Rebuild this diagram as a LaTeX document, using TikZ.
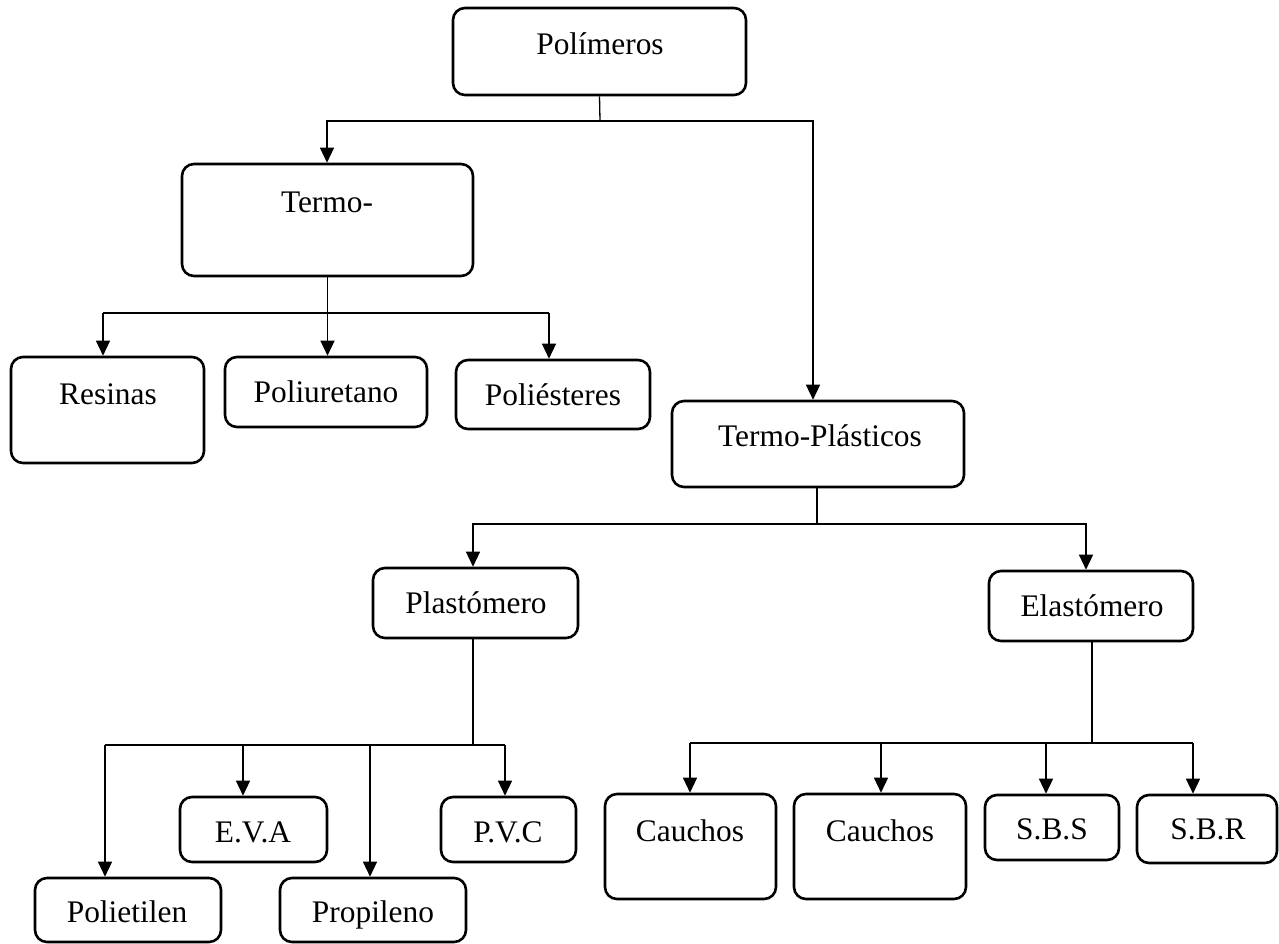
\documentclass[tikz,border=0pt]{standalone}
\usepackage{fontspec}
\setmainfont{Liberation Serif}
\usetikzlibrary{arrows.meta}
\begin{document}
\begin{tikzpicture}[x=1pt,y=-1pt,
  box/.style={draw, line width=2.6pt, rounded corners=12pt, inner sep=0pt},
  sz/.style 2 args={minimum width=#1pt, minimum height=#2pt},
  lbl/.style={inner sep=0pt, anchor=base, font=\fontsize{31.4}{36}\selectfont},
  conn/.style={line width=1.3pt},
  arr/.style={conn, -{Triangle[length=15pt,width=14pt]}}]
\useasboundingbox (0,0) rectangle (1279,943);

% ---- boxes ----
\node[box, sz={293}{87}]  (poli)   at (599.5,51.5) {};
\node[box, sz={291}{112}] (termo)  at (327.5,220)  {};
\node[box, sz={193}{106}] (resin)  at (107.5,410)  {};
\node[box, sz={202}{70}]  (poliu)  at (326,392)    {};
\node[box, sz={194}{69}]  (polie)  at (553,394.5)  {};
\node[box, sz={292}{86}]  (tp)     at (818,444)    {};
\node[box, sz={205}{70}]  (plast)  at (475.5,603)  {};
\node[box, sz={204}{70}]  (elast)  at (1091,606)   {};
\node[box, sz={147}{65}]  (eva)    at (253.5,829.5){};
\node[box, sz={135}{65}]  (pvc)    at (508.5,829.5){};
\node[box, sz={186}{64}]  (polet)  at (128,910)    {};
\node[box, sz={186}{64}]  (propi)  at (373,910)    {};
\node[box, sz={171}{105}] (cauA)   at (690.5,846.5){};
\node[box, sz={172}{105}] (cauB)   at (880,846.5)  {};
\node[box, sz={134}{65}]  (sbs)    at (1052,827.5) {};
\node[box, sz={140}{68}]  (sbr)    at (1207,829)   {};

% ---- labels ----
\node[lbl] (poli-t)  at (600,54)   {Polímeros};
\node[lbl] (termo-t) at (327,212)  {Termo-};
\node[lbl] (resin-t) at (108,404)  {Resinas};
\node[lbl] (poliu-t) at (326,402)  {Poliuretano};
\node[lbl] (polie-t) at (553,405)  {Poliésteres};
\node[lbl] (tp-t)    at (820,446)  {Termo-Plásticos};
\node[lbl] (plast-t) at (476,613)  {Plastómero};
\node[lbl] (elast-t) at (1092,616) {Elastómero};
\node[lbl] (eva-t)   at (253,842)  {E.V.A};
\node[lbl] (pvc-t)   at (508,842)  {P.V.C};
\node[lbl] (polet-t) at (127,922)  {Polietilen};
\node[lbl] (propi-t) at (373,922)  {Propileno};
\node[lbl] (cauA-t)  at (690,841)  {Cauchos};
\node[lbl] (cauB-t)  at (880,841)  {Cauchos};
\node[lbl] (sbs-t)   at (1052,839) {S.B.S};
\node[lbl] (sbr-t)   at (1208,839) {S.B.R};

% ---- Polímeros branch ----
\coordinate (b1)  at (600,121);
\coordinate (b1l) at (327,121);
\coordinate (b1r) at (813,121);
\draw[conn] (poli.south) -- (b1);
\draw[arr] (b1) -- (b1l) -- (b1l |- termo.north);
\draw[arr] (b1) -- (b1r) -- (b1r |- tp.north);

% ---- Termo- branch ----
\coordinate (b2l) at (103,313);
\coordinate (b2r) at (549,313);
\draw[arr] (termo.south) -- (termo.south |- poliu.north);
\draw[conn] (b2l) -- (b2r);
\draw[arr] (b2l |- 0,313) -- (b2l |- resin.north);
\draw[arr] (b2r) -- (b2r |- polie.north);

% ---- Termo-Plásticos branch ----
\coordinate (b3)  at (817,524);
\coordinate (b3l) at (473,524);
\coordinate (b3r) at (1086,524);
\draw[conn] (tp.south -| b3) -- (b3);
\draw[arr] (b3) -- (b3l) -- (b3l |- plast.north);
\draw[arr] (b3) -- (b3r) -- (b3r |- elast.north);

% ---- Plastómero branch ----
\coordinate (b4)  at (473,745);
\coordinate (b4a) at (105,745);
\coordinate (b4b) at (243,745);
\coordinate (b4c) at (370,745);
\coordinate (b4d) at (505,745);
\draw[conn] (plast.south -| b4) -- (b4);
\draw[conn] (b4a) -- (b4d);
\draw[arr] (b4a) -- (b4a |- polet.north);
\draw[arr] (b4b) -- (b4b |- eva.north);
\draw[arr] (b4c) -- (b4c |- propi.north);
\draw[arr] (b4d) -- (b4d |- pvc.north);

% ---- Elastómero branch ----
\coordinate (b5)  at (1092,743);
\coordinate (b5a) at (690,743);
\coordinate (b5b) at (881,743);
\coordinate (b5c) at (1046,743);
\coordinate (b5d) at (1193,743);
\draw[conn] (elast.south -| b5) -- (b5);
\draw[conn] (b5a) -- (b5d);
\draw[arr] (b5a) -- (b5a |- cauA.north);
\draw[arr] (b5b) -- (b5b |- cauB.north);
\draw[arr] (b5c) -- (b5c |- sbs.north);
\draw[arr] (b5d) -- (b5d |- sbr.north);
\end{tikzpicture}
\end{document}
